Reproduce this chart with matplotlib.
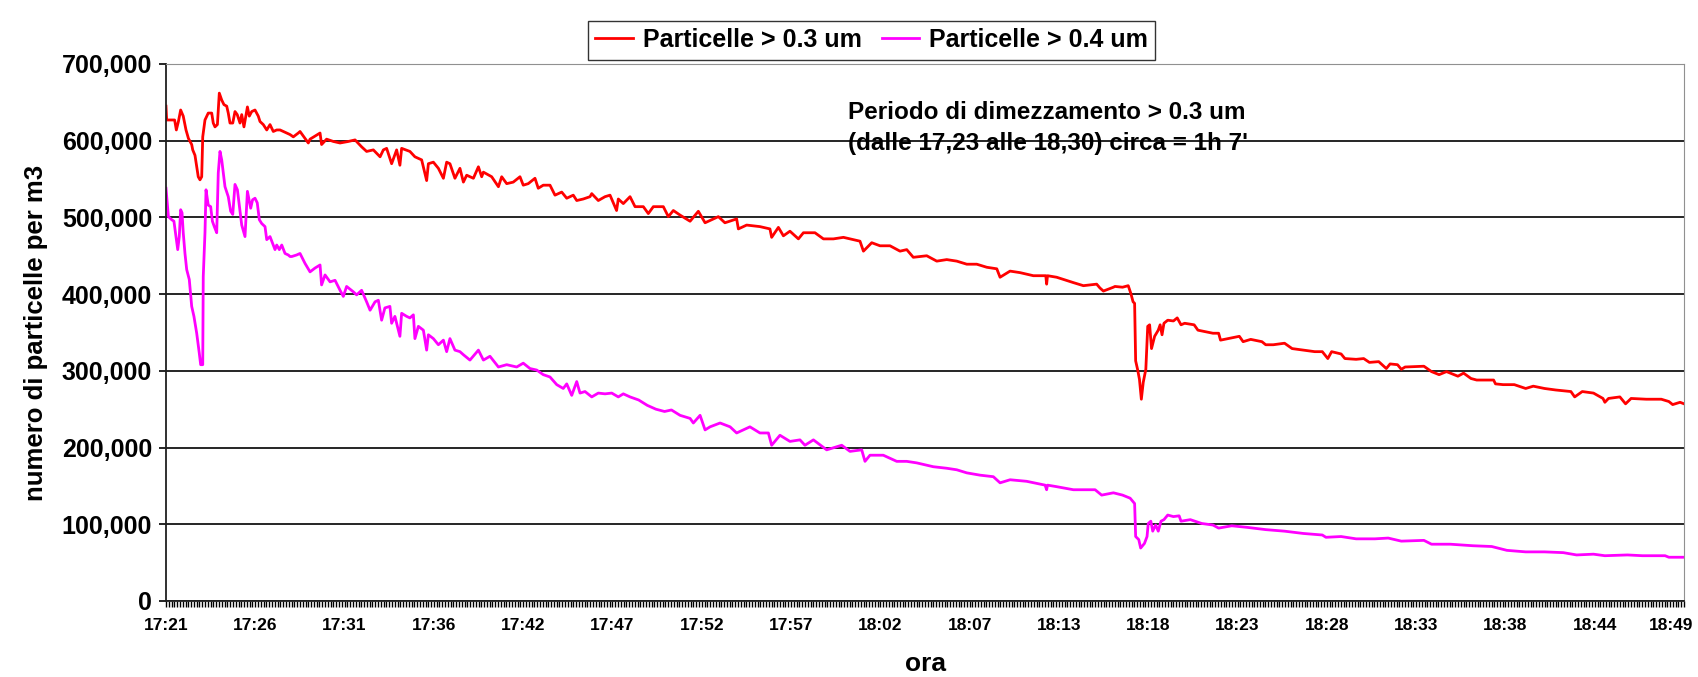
import numpy as np
import matplotlib.pyplot as plt
import matplotlib.transforms as mtransforms
from matplotlib.ticker import FuncFormatter

plt.rcParams['font.family'] = ['Liberation Sans', 'DejaVu Sans']
plt.rcParams['font.weight'] = 'bold'
plt.rcParams['axes.labelweight'] = 'bold'

# minuti dalle 17:21, valori in migliaia di particelle per m3
t_red = [0.00, 0.04, 0.50, 0.60, 0.72, 0.85, 1.00, 1.16, 1.30, 1.49, 1.55, 1.68, 1.78, 1.87, 1.97,
         2.07, 2.13, 2.26, 2.45, 2.65, 2.74, 2.84, 2.98, 3.09, 3.23, 3.36, 3.52, 3.61, 3.71, 3.87,
         4.00, 4.13, 4.29, 4.39, 4.52, 4.72, 4.83, 4.97, 5.16, 5.35, 5.45, 5.64, 5.84, 6.03, 6.22,
         6.42, 6.61, 6.80, 7.00, 7.19, 7.38, 7.67, 7.77, 8.25, 8.35, 8.93, 9.02, 9.31, 9.70, 10.09,
         10.57, 10.96, 11.34, 11.63, 12.02, 12.41, 12.60, 12.79, 13.08, 13.37, 13.56, 13.66, 14.14,
         14.43, 14.82, 15.11, 15.21, 15.50, 15.79, 16.08, 16.27, 16.46, 16.75, 17.04, 17.24, 17.43,
         17.82, 18.11, 18.30, 18.40, 18.88, 19.27, 19.46, 19.75, 20.13, 20.52, 20.71, 21.00, 21.39,
         21.58, 21.87, 22.26, 22.55, 22.94, 23.23, 23.61, 23.81, 24.19, 24.58, 24.68, 25.06, 25.45,
         25.74, 26.12, 26.22, 26.51, 26.90, 27.19, 27.67, 27.96, 28.25, 28.83, 29.12, 29.41, 29.80,
         30.38, 30.86, 31.25, 32.02, 32.40, 33.08, 33.18, 33.66, 34.43, 35.01, 35.11, 35.50, 35.79,
         36.17, 36.66, 36.95, 37.62, 38.11, 38.69, 39.27, 40.23, 40.43, 40.91, 41.39, 41.97, 42.55,
         42.94, 43.32, 44.10, 44.68, 45.26, 45.84, 46.42, 47.00, 47.58, 48.16, 48.35, 48.93, 49.51,
         50.28, 51.00, 51.05, 51.10, 51.63, 52.60, 53.18, 53.95, 54.14, 54.34, 54.92, 55.01, 55.45,
         55.78, 55.93, 56.06, 56.15, 56.21, 56.32, 56.43, 56.54, 56.65, 56.80, 56.91, 57.02, 57.13,
         57.31, 57.52, 57.63, 57.74, 57.85, 58.07, 58.40, 58.62, 58.84, 59.05, 59.60, 59.82, 60.26,
         60.69, 61.02, 61.13, 61.57, 62.22, 62.44, 62.88, 63.53, 63.75, 64.19, 64.84, 65.28, 65.93,
         66.59, 67.03, 67.35, 67.57, 68.12, 68.34, 68.99, 69.43, 69.76, 70.30, 70.74, 70.96, 71.39,
         71.61, 71.83, 72.92, 73.36, 73.80, 74.23, 74.89, 75.22, 75.65, 75.98, 76.96, 77.07, 77.51,
         78.16, 78.82, 79.26, 79.91, 80.57, 81.44, 81.66, 82.10, 82.75, 83.30, 83.41, 83.62, 84.28,
         84.61, 84.93, 85.81, 86.68, 87.12, 87.34, 87.77, 88.00]
red_k = [645, 627, 627, 614, 625, 640, 632, 614, 603, 595, 588, 581, 566, 553, 549,
         553, 605, 627, 636, 636, 623, 618, 621, 662, 653, 647, 645, 636, 623, 623,
         638, 634, 623, 634, 618, 644, 632, 638, 640, 632, 625, 621, 614, 621, 612,
         614, 614, 612, 610, 608, 605, 610, 612, 597, 602, 610, 595, 602, 599, 597,
         599, 601, 592, 586, 588, 579, 588, 590, 570, 588, 568, 590, 586,
         579, 575, 548, 570, 572, 564, 551, 572, 570, 551, 564, 546, 555,
         551, 566, 553, 559, 553, 540, 553, 544, 546, 553, 542, 544, 551,
         538, 542, 542, 529, 533, 525, 529, 522, 524, 527, 531, 522, 527,
         529, 509, 524, 518, 527, 514, 514, 505, 514, 514, 501, 509, 503,
         495, 508, 493, 501, 493, 498, 485, 490, 488, 485, 474, 487, 476,
         482, 472, 480, 480, 472, 472, 474, 469, 456, 467, 463, 463, 456,
         458, 448, 450, 443, 445, 443, 439, 439, 435, 433, 422, 430, 428,
         424, 424, 413, 424, 422, 415, 411, 413, 408, 404, 409, 410, 409,
         411, 401, 390, 388, 313, 302, 289, 263, 285, 302, 358, 360, 329,
         345, 353, 360, 347, 362, 366, 365, 369, 360, 362, 360, 353, 351,
         349, 349, 340, 342, 345, 338, 341, 338, 334, 334, 336, 329, 327,
         325, 325, 316, 325, 322, 316, 315, 316, 311, 312, 303, 309, 308,
         302, 305, 306, 299, 295, 299, 293, 297, 290, 288, 288, 283, 282,
         282, 277, 280, 277, 275, 273, 266, 273, 271, 264, 259, 264, 266,
         257, 264, 263, 263, 260, 256, 259, 257]

t_mag = [0.00, 0.14, 0.33, 0.46, 0.58, 0.68, 0.77, 0.85, 0.93, 1.00, 1.10, 1.20, 1.35, 1.49, 1.62,
         1.78, 1.93, 2.01, 2.13, 2.16, 2.26, 2.32, 2.45, 2.59, 2.69, 2.80, 2.94, 3.03, 3.13, 3.23,
         3.32, 3.42, 3.61, 3.75, 3.87, 4.00, 4.14, 4.25, 4.39, 4.58, 4.72, 4.83, 4.91, 5.02, 5.16,
         5.29, 5.41, 5.55, 5.74, 5.84, 6.03, 6.18, 6.32, 6.42, 6.57, 6.71, 6.90, 7.09, 7.19, 7.29,
         7.57, 7.77, 8.06, 8.35, 8.64, 8.93, 9.02, 9.22, 9.51, 9.80, 10.09, 10.28, 10.47, 10.86,
         11.05, 11.34, 11.63, 11.83, 12.12, 12.31, 12.50, 12.69, 12.98, 13.08, 13.27, 13.56, 13.66,
         13.95, 14.14, 14.34, 14.43, 14.63, 14.92, 15.11, 15.21, 15.50, 15.79, 16.08, 16.27, 16.46,
         16.75, 17.04, 17.24, 17.62, 18.11, 18.40, 18.78, 19.27, 19.75, 20.33, 20.71, 21.10, 21.49,
         21.87, 22.26, 22.65, 23.03, 23.23, 23.52, 23.81, 24.00, 24.29, 24.68, 25.06, 25.45, 25.84,
         26.22, 26.51, 26.90, 27.40, 27.90, 28.40, 28.90, 29.30, 29.80, 30.38, 30.57, 30.96, 31.25,
         31.54, 32.12, 32.70, 33.08, 33.47, 33.85, 34.43, 34.92, 35.11, 35.59, 36.17, 36.75, 37.04,
         37.53, 38.30, 39.17, 39.65, 40.33, 40.52, 40.81, 41.58, 42.36, 42.94, 43.52, 44.48, 45.26,
         45.84, 46.42, 47.19, 47.96, 48.35, 48.93, 49.89, 50.96, 51.05, 51.10, 51.63, 52.60, 53.86,
         54.24, 54.92, 55.45, 55.89, 56.15, 56.21, 56.39, 56.50, 56.72, 56.87, 56.94, 57.09, 57.20,
         57.37, 57.52, 57.68, 57.85, 58.07, 58.40, 58.73, 58.84, 59.38, 60.04, 60.69, 61.02, 61.78,
         62.66, 63.75, 64.84, 65.93, 67.03, 67.24, 68.12, 68.99, 70.08, 70.85, 71.61, 72.92, 73.36,
         74.45, 75.76, 76.85, 77.73, 78.82, 79.91, 81.00, 81.77, 82.75, 83.41, 84.72, 85.59, 86.90,
         87.12, 88.00]
mag_k = [538, 501, 497, 495, 475, 458, 475, 510, 506, 480, 453, 432, 419, 384, 371,
         349, 323, 308, 308, 423, 480, 536, 516, 514, 495, 488, 480, 558, 586, 575,
         558, 540, 527, 508, 504, 543, 536, 516, 490, 475, 534, 521, 512, 523, 525,
         519, 497, 492, 488, 471, 475, 466, 458, 464, 458, 464, 453, 451, 449, 449,
         451, 453, 440, 429, 434, 438, 412, 425, 416, 418, 405, 397, 410, 403,
         399, 405, 390, 379, 390, 392, 366, 382, 384, 362, 371, 345, 375,
         371, 369, 373, 342, 358, 353, 327, 347, 342, 334, 340, 325, 342,
         327, 325, 321, 314, 327, 314, 319, 305, 308, 305, 310, 303, 301,
         295, 292, 282, 277, 283, 268, 286, 271, 273, 266, 271, 270, 271,
         266, 270, 266, 262, 255, 250, 247, 249, 242, 238, 232, 242, 223,
         227, 232, 227, 219, 223, 227, 219, 219, 203, 216, 208, 210, 203,
         210, 197, 203, 195, 197, 182, 190, 190, 182, 182, 180, 175, 173,
         171, 167, 164, 162, 154, 158, 156, 151, 145, 151, 149, 145, 145,
         138, 141, 138, 134, 127, 84, 80, 69, 75, 84, 101, 104, 91,
         99, 91, 104, 106, 112, 110, 111, 104, 106, 101, 99, 95, 98,
         96, 93, 91, 88, 86, 83, 84, 81, 81, 82, 78, 79, 74,
         74, 72, 71, 66, 64, 64, 63, 60, 61, 59, 60, 59, 59,
         57, 57]

ore = ["17:21", "17:26", "17:31", "17:36", "17:42", "17:47", "17:52", "17:57", "18:02",
       "18:07", "18:13", "18:18", "18:23", "18:28", "18:33", "18:38", "18:44", "18:49"]

fig = plt.figure(figsize=(16.99, 6.77), dpi=100)
ax = fig.add_axes([0.0977, 0.1123, 0.8935, 0.7932])

ax.plot(t_red, np.array(red_k) * 1000, color="#FF0000", lw=2.0, label="Particelle > 0.3 um")
ax.plot(t_mag, np.array(mag_k) * 1000, color="#FF00FF", lw=2.0, label="Particelle > 0.4 um")

ax.set_xlim(0, 88)
ax.set_ylim(0, 700000)
ax.set_yticks(np.arange(0, 700001, 100000))
ax.yaxis.set_major_formatter(FuncFormatter(lambda v, p: f"{int(v):,}"))
ax.set_xticks(np.linspace(0, 88, len(ore)))
ax.set_xticklabels(ore)
ax.set_xticks(np.linspace(0, 88, 17 * 32 + 1), minor=True)

ax.tick_params(axis="y", direction="out", length=5, width=1.2, pad=5, labelsize=18)
ax.tick_params(axis="x", which="both", direction="out", length=4, width=1.0, pad=8, labelsize=12.5)

# ultima etichetta spostata a sinistra per non uscire dal bordo
last = ax.get_xticklabels()[-1]
last.set_transform(last.get_transform() + mtransforms.ScaledTranslation(-0.13, 0, fig.dpi_scale_trans))

ax.grid(axis="y", color="black", lw=1.2)
ax.set_axisbelow(True)
for s in ["top", "right"]:
    ax.spines[s].set_color("#909090")
for s in ["left", "bottom"]:
    ax.spines[s].set_color("#202020")
    ax.spines[s].set_linewidth(1.3)

ax.set_ylabel("numero di particelle per m3", fontsize=18.5, labelpad=10)
ax.set_xlabel("ora", fontsize=19, labelpad=14)

leg = fig.legend(loc="upper center", bbox_to_anchor=(0.513, 0.988), ncol=2, fontsize=18,
                 frameon=True, fancybox=False, edgecolor="black", handlelength=1.5,
                 handletextpad=0.4, columnspacing=0.8, borderpad=0.3)
leg.get_frame().set_linewidth(1.0)

fig.text(848 / 1699, 1 - 128 / 677,
         "Periodo di dimezzamento > 0.3 um\n(dalle 17,23 alle 18,30) circa = 1h 7'",
         fontsize=17.5, va="center", ha="left", linespacing=1.4)

fig.savefig("out.png", dpi=100)
